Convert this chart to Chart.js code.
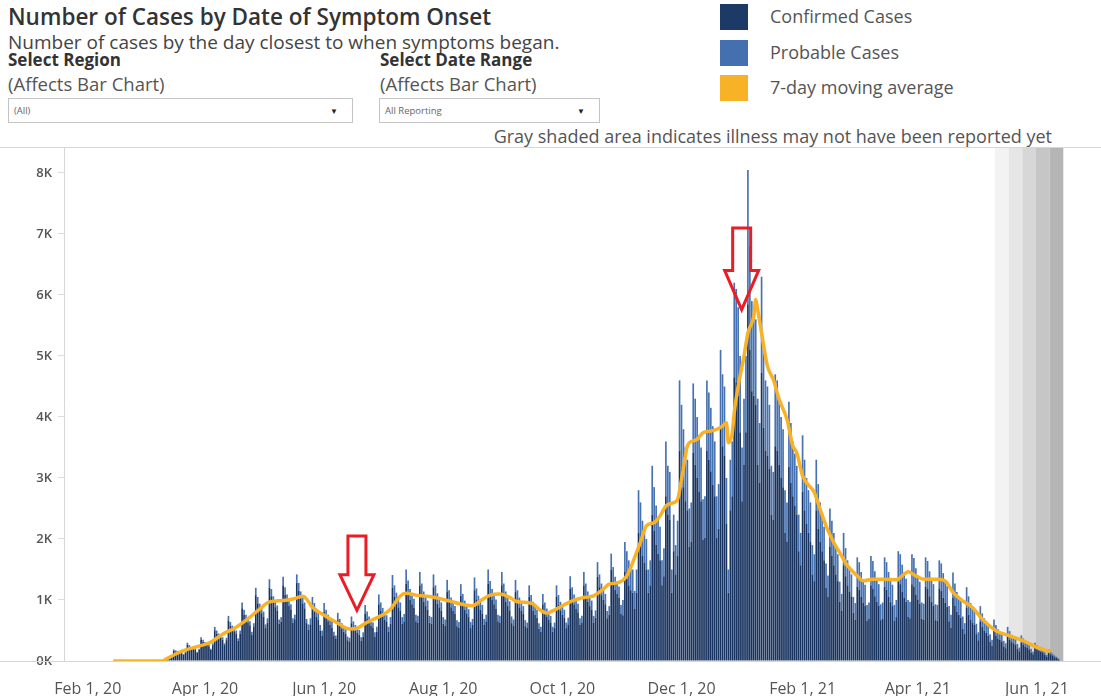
<!DOCTYPE html>
<html lang="en">
<head>
  <meta charset="UTF-8" />
  <title>Number of Cases by Date of Symptom Onset</title>
  <script src="https://cdn.jsdelivr.net/npm/chart.js"></script>
  <style>
    body { margin: 0; background: #fff; font-family: "Open Sans", sans-serif; }
    #page { position: relative; width: 1101px; height: 696px; overflow: hidden; }
    .abs { position: absolute; white-space: nowrap; line-height: 1.2; }
    .title { left: 8px; top: 3px; font-size: 22.5px; font-weight: 600; color: #333; }
    .sub { left: 8px; top: 31px; font-size: 19px; color: #444; }
    .lbl { font-size: 17px; font-weight: 700; color: #333; top: 50px; }
    .aff { font-size: 18.5px; color: #555; top: 73px; }
    .dd { top: 98px; height: 25px; border: 1px solid #c4c4c4; box-sizing: border-box; font-size: 9.5px; color: #666; line-height: 23px; padding-left: 5px; }
    .dd span { position: absolute; right: 14px; top: 0; font-size: 8px; color: #222; }
    .sw { left: 720px; width: 28px; height: 26px; }
    .lg { left: 770px; font-size: 18px; color: #555; }
    .note { right: 49px; top: 126px; font-size: 18px; color: #555; }
    #wrap { position: absolute; left: 0; top: 147px; width: 1101px; height: 549px; }
  </style>
</head>
<body>
<div id="page">
  <div class="abs title">Number of Cases by Date of Symptom Onset</div>
  <div class="abs sub">Number of cases by the day closest to when symptoms began.</div>
  <div class="abs lbl" style="left:8px">Select Region</div>
  <div class="abs aff" style="left:8px">(Affects Bar Chart)</div>
  <div class="abs dd" style="left:8px;width:345px">(All)<span>&#9660;</span></div>
  <div class="abs lbl" style="left:380px">Select Date Range</div>
  <div class="abs aff" style="left:380px">(Affects Bar Chart)</div>
  <div class="abs dd" style="left:379px;width:221px">All Reporting<span>&#9660;</span></div>

  <div class="abs sw" style="top:4px;background:#1d3a66"></div>
  <div class="abs lg" style="top:6px">Confirmed Cases</div>
  <div class="abs sw" style="top:40px;background:#4570b0"></div>
  <div class="abs lg" style="top:42px">Probable Cases</div>
  <div class="abs sw" style="top:75px;background:#f7b228"></div>
  <div class="abs lg" style="top:77px">7-day moving average</div>
  <div class="abs note">Gray shaded area indicates illness may not have been reported yet</div>

  <div id="wrap"><canvas id="chart"></canvas></div>
</div>
<script>
// day 0 = Feb 1, 2020; bars start at day 36 (Sun Mar 8, 2020), one row per week Sun..Sat
const firstDay = 36;

const confirmed = [
  0,0,10,27,40,63,59,
  81,171,157,149,140,135,103,
  135,270,234,207,193,180,135,
  180,351,315,279,261,243,180,
  261,504,450,405,378,351,261,
  342,666,576,522,486,450,333,
  450,864,756,684,630,585,432,
  558,1080,945,846,783,729,540,
  630,1206,1062,954,882,819,612,
  648,1242,1089,981,900,837,630,
  684,1278,1152,1026,945,864,621,
  510,600,890,810,730,680,500,
  420,810,710,650,600,550,410,
  360,670,590,530,480,450,340,
  320,620,550,500,465,430,330,
  400,780,690,620,580,540,400,
  480,930,820,740,680,640,480,
  610,1200,1050,950,880,820,610,
  650,1270,1120,1000,930,870,650,
  630,1240,1080,970,900,840,630,
  610,1210,1050,940,880,820,610,
  580,1130,990,880,820,770,570,
  540,1070,940,840,780,720,540,
  590,1160,1010,910,840,780,590,
  650,1270,1110,1000,930,860,650,
  630,1240,1080,970,900,830,620,
  580,1130,990,880,820,770,570,
  540,1050,920,820,760,710,530,
  480,930,820,730,680,630,480,
  540,1050,920,820,760,710,540,
  600,1180,1030,930,860,800,600,
  630,1240,1080,970,900,840,630,
  710,1380,1210,1080,1000,930,700,
  760,1500,1310,1170,1100,1040,780,
  750,1460,1350,1240,1160,1120,860,
  1120,2100,1950,1720,1610,1500,1120,
  1240,2400,2140,1910,1760,1650,1240,
  1390,2700,2400,2320,1120,1800,1420,
  1720,3450,3150,2850,2620,2470,1870,
  1950,3410,3220,3000,2770,2620,1990,
  2020,3450,3300,3110,2890,2700,2020,
  2170,3820,3520,3370,2250,1120,2470,
  2700,4650,4570,4350,3750,2620,3220,
  3750,5850,5100,4420,4350,4200,3220,
  2920,4720,3820,3450,3370,3150,2400,
  2320,3520,3450,3220,3000,2850,2100,
  1950,3190,2920,2700,2550,2400,1800,
  1570,2770,2470,2250,2100,1950,1420,
  1310,2470,2170,1950,1800,1650,1200,
  1050,1870,1720,1570,1420,1310,970,
  820,1570,1390,1240,1140,1060,790,
  680,1220,1170,1050,960,900,660,
  690,1240,1180,1060,970,910,670,
  690,1220,1170,1050,965,900,660,
  720,1300,1260,1140,1040,970,720,
  700,1260,1220,1090,1010,940,690,
  680,1220,1180,1060,970,910,670,
  660,1190,1150,1040,950,890,650,
  550,1040,910,810,760,710,530,
  450,870,760,680,630,590,440,
  340,650,560,500,460,420,320,
  250,490,420,370,350,320,240,
  210,400,350,310,290,270,200,
  160,300,270,230,220,190,140,
  110,220,190,170,150,140,100,
  70,140,110,90,60,50,30
];

const probable = [
  0,0,2,3,5,7,6,
  9,19,18,16,15,15,12,
  15,30,26,23,22,20,15,
  20,39,35,31,29,27,20,
  29,56,50,45,42,39,29,
  38,74,64,58,54,50,37,
  50,96,84,76,70,65,48,
  62,120,105,94,87,81,60,
  70,134,118,106,98,91,68,
  72,138,121,109,100,93,70,
  76,142,128,114,105,96,69,
  90,100,160,140,130,120,90,
  80,140,130,110,100,100,70,
  60,120,100,90,90,80,60,
  60,110,100,90,80,80,60,
  70,140,120,110,100,90,70,
  80,160,140,130,120,110,80,
  110,210,190,170,150,140,110,
  120,230,200,180,160,150,110,
  110,220,190,170,160,150,110,
  110,210,190,170,150,140,110,
  100,200,170,160,145,130,100,
  100,190,160,150,135,130,100,
  100,210,180,160,150,140,100,
  110,230,200,180,160,150,110,
  110,220,190,170,155,150,110,
  100,200,170,160,145,130,100,
  90,190,160,150,140,130,90,
  80,170,140,130,120,110,80,
  90,190,160,150,140,130,90,
  110,210,180,160,150,140,100,
  110,220,190,170,160,150,110,
  120,240,210,190,180,170,120,
  140,260,230,210,190,180,140,
  250,490,450,410,390,380,290,
  380,700,650,580,540,500,380,
  410,800,710,640,590,550,410,
  460,900,800,780,380,600,480,
  580,1150,1050,950,880,830,630,
  650,1140,1080,1000,930,880,660,
  680,1150,1100,1040,960,900,680,
  730,1280,1180,1130,750,380,830,
  900,1550,1530,1450,1250,880,1080,
  1250,2200,1700,1480,1450,1400,1080,
  980,1580,1280,1150,1130,1050,800,
  780,1180,1150,1080,1000,950,700,
  650,1060,980,900,850,800,600,
  530,930,830,750,700,650,480,
  440,830,730,650,600,550,400,
  350,630,580,530,480,440,330,
  280,530,460,410,380,360,260,
  270,480,450,410,380,350,260,
  270,480,460,410,380,350,260,
  270,480,450,410,380,350,260,
  280,500,490,440,410,380,280,
  270,490,470,430,390,360,270,
  260,480,460,410,380,350,260,
  260,460,450,400,370,340,250,
  210,410,360,320,290,270,200,
  170,340,300,270,250,230,170,
  130,250,220,200,180,170,120,
  100,190,170,150,130,120,90,
  80,160,140,120,110,100,80,
  60,120,100,90,80,80,60,
  40,80,70,60,60,50,40,
  30,50,40,30,30,20,10
];

// 7-day moving average
const avgDays = [13,38,40,45,49,57,63,69,76,83,88,93,100,105,110,112,115,120,128,134,
  138,143,150,155,160,163,168,177,185,191,197,201,206,211,216,220,225,228,231,235,
  238,243,248,254,259,264,267,272,276,279,283,286,290,293,296,300,302,304,307,308,
  312,315,319,322,325,327,328,330,331,333,336,338,341,342,343,345,348,351,354,358,
  361,363,366,372,375,378,382,385,389,394,397,402,407,414,418,420,424,428,435,439,
  443,448,453,458,465,472,479,486,493];
const avgValues = [0,0,30,115,170,245,310,440,555,720,850,970,990,1015,1060,1015,880,770,620,525,
  540,635,740,850,1065,1110,1080,1045,985,933,905,987,1080,1097,1042,970,960,933,851,786,
  823,905,987,1042,1069,1178,1260,1288,1396,1615,1950,2215,2270,2378,2542,2597,2651,2979,3524,3579,
  3633,3742,3770,3797,3851,3906,3579,3742,4070,4506,4997,5379,5652,5925,5761,5379,4833,4615,4288,3961,
  3524,3415,3033,2761,2488,2215,1942,1778,1560,1396,1314,1342,1342,1331,1424,1462,1396,1342,1342,1314,
  1124,987,878,687,496,414,332,224,152];

const tickDays = [0, 60, 121, 182, 243, 304, 366, 425, 486];
const tickLabels = ['Feb 1, 20', 'Apr 1, 20', 'Jun 1, 20', 'Aug 1, 20', 'Oct 1, 20', 'Dec 1, 20', 'Feb 1, 21', 'Apr 1, 21', 'Jun 1, 21'];
const yTicks = [0, 1000, 2000, 3000, 4000, 5000, 6000, 7000, 8000];

// "not reported yet" shading: start day, band length in days, band colours
const shadeStart = 464.5, shadeStep = 7;
const shadeColors = ['#f3f3f3', '#e6e6e6', '#d7d7d7', '#c6c6c6', '#b5b5b5'];

// red callout arrows: centre day, top value, tip value
const arrows = [
  { day: 137.8, top: 2050, tip: 830 },
  { day: 334.8, top: 7100, tip: 5760 }
];

const confPts = confirmed.map((v, i) => ({ x: firstDay + i, y: v }));
const probPts = probable.map((v, i) => ({ x: firstDay + i, y: v }));
const avgPts = avgDays.map((d, i) => ({ x: d, y: avgValues[i] }));

const shadePlugin = {
  id: 'shade',
  beforeDatasetsDraw(chart) {
    const { ctx, chartArea, scales: { x } } = chart;
    ctx.save();
    shadeColors.forEach((c, i) => {
      const x0 = x.getPixelForValue(shadeStart + i * shadeStep);
      const x1 = x.getPixelForValue(shadeStart + (i + 1) * shadeStep);
      ctx.fillStyle = c;
      ctx.fillRect(x0, chartArea.top, x1 - x0, chartArea.bottom - chartArea.top);
    });
    ctx.restore();
  }
};

const framePlugin = {
  id: 'frame',
  afterDraw(chart) {
    const { ctx, chartArea, width } = chart;
    ctx.save();
    ctx.strokeStyle = '#d6d6d6';
    ctx.lineWidth = 1;
    ctx.beginPath();
    ctx.moveTo(0, chartArea.top + 0.5); ctx.lineTo(width, chartArea.top + 0.5);
    ctx.moveTo(0, chartArea.bottom + 0.5); ctx.lineTo(width, chartArea.bottom + 0.5);
    ctx.stroke();
    ctx.restore();
  }
};

const arrowPlugin = {
  id: 'arrows',
  afterDatasetsDraw(chart) {
    const { ctx, scales: { x, y } } = chart;
    ctx.save();
    ctx.strokeStyle = '#ec1c24';
    ctx.lineWidth = 3;
    ctx.lineJoin = 'miter';
    arrows.forEach(a => {
      const cx = x.getPixelForValue(a.day);
      const yt = y.getPixelForValue(a.top);
      const yp = y.getPixelForValue(a.tip);
      const ys = yt + (yp - yt) * 0.52;
      ctx.beginPath();
      ctx.moveTo(cx - 9, yt);
      ctx.lineTo(cx + 9, yt);
      ctx.lineTo(cx + 9, ys);
      ctx.lineTo(cx + 17, ys);
      ctx.lineTo(cx, yp);
      ctx.lineTo(cx - 17, ys);
      ctx.lineTo(cx - 9, ys);
      ctx.closePath();
      ctx.stroke();
    });
    ctx.restore();
  }
};

new Chart(document.getElementById('chart'), {
  type: 'bar',
  data: {
    datasets: [
      { type: 'line', label: '7-day moving average', data: avgPts, borderColor: '#f7b228', borderWidth: 3.5,
        pointRadius: 0, cubicInterpolationMode: 'monotone', stack: 'avg', order: 0 },
      { label: 'Confirmed Cases', data: confPts, backgroundColor: '#18335f', stack: 'cases', order: 1,
        barPercentage: 0.86, categoryPercentage: 1 },
      { label: 'Probable Cases', data: probPts, backgroundColor: '#4772b2', stack: 'cases', order: 2,
        barPercentage: 0.86, categoryPercentage: 1 }
    ]
  },
  options: {
    responsive: true, maintainAspectRatio: false, devicePixelRatio: 1, animation: false,
    layout: { padding: 0 },
    plugins: { legend: { display: false }, tooltip: { enabled: false } },
    scales: {
      x: {
        type: 'linear', stacked: true, offset: false, min: -12.2, max: 518.8,
        grid: { display: false },
        border: { display: false },
        afterBuildTicks: s => { s.ticks = tickDays.map(v => ({ value: v })); },
        afterFit: s => { s.height = 35; s.paddingLeft = 0; s.paddingRight = 0; },
        ticks: {
          autoSkip: false, maxRotation: 0, padding: 11, color: '#555',
          font: { family: 'Open Sans', size: 16 },
          callback: v => tickLabels[tickDays.indexOf(v)]
        }
      },
      y: {
        stacked: true, min: 0, max: 8426,
        grid: { drawOnChartArea: false, drawTicks: true, tickLength: 6, color: '#dcdcdc' },
        border: { display: true, color: '#d6d6d6' },
        afterBuildTicks: s => { s.ticks = yTicks.map(v => ({ value: v })); },
        afterFit: s => { s.width = 64; s.paddingTop = 0; s.paddingBottom = 0; },
        ticks: {
          padding: 6, color: '#555',
          font: { family: 'Open Sans', size: 13, weight: '600' },
          callback: v => (v / 1000) + 'K'
        }
      }
    }
  },
  plugins: [shadePlugin, framePlugin, arrowPlugin]
});
</script>
</body>
</html>
